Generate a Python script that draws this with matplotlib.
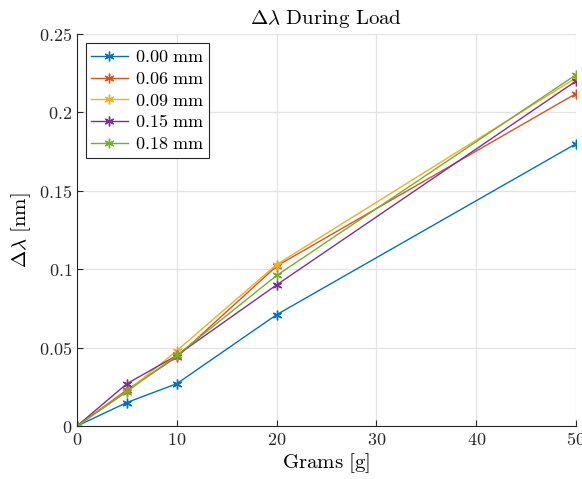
import matplotlib
matplotlib.use("Agg")
import matplotlib.pyplot as plt
from matplotlib.ticker import FuncFormatter

plt.rcParams["mathtext.fontset"] = "cm"
plt.rcParams["font.family"] = "serif"
plt.rcParams["font.serif"] = ["DejaVu Serif"]

# ---- data ----
grams = [0, 5, 10, 20, 50]
labels = ["0.00 mm", "0.06 mm", "0.09 mm", "0.15 mm", "0.18 mm"]
d000 = [0.0, 0.015, 0.027, 0.071, 0.180]
d006 = [0.0, 0.023, 0.044, 0.102, 0.212]
d009 = [0.0, 0.022, 0.048, 0.103, 0.222]
d015 = [0.0, 0.027, 0.045, 0.090, 0.220]
d018 = [0.0, 0.022, 0.045, 0.096, 0.224]
series = [d000, d006, d009, d015, d018]
colors = ["#0072BD", "#D95319", "#EDB120", "#7E2F8E", "#77AC30"]

fig = plt.figure(figsize=(5.82, 4.79), dpi=100)
ax = fig.add_axes([0.1323, 0.1106, 0.8574, 0.8184])

# MATLAB-style asterisk marker
ASTERISK = (6, 2, 0)
for ys, lab, c in zip(series, labels, colors):
    ax.plot(grams, ys, color=c, lw=1.0, marker=ASTERISK, ms=7, mew=1.0,
            label=r"$\mathrm{%s}$" % lab.replace(" ", r"\ "))

ax.set_xlim(0, 50)
ax.set_ylim(0, 0.25)
ax.set_xticks([0, 10, 20, 30, 40, 50])
ax.set_yticks([0, 0.05, 0.1, 0.15, 0.2, 0.25])
fmt = FuncFormatter(lambda v, pos: r"$%g$" % round(v, 3))
ax.xaxis.set_major_formatter(fmt)
ax.yaxis.set_major_formatter(fmt)
ax.tick_params(direction="in", length=4, width=0.8, labelsize=13, colors="#262626")
ax.grid(True, color="#e3e3e3", lw=0.9)
ax.set_axisbelow(True)
for s in ["top", "right"]:
    ax.spines[s].set_visible(False)
for s in ["left", "bottom"]:
    ax.spines[s].set_color("#262626")
    ax.spines[s].set_linewidth(0.8)

ax.set_xlabel(r"$\mathrm{Grams\ [g]}$", fontsize=15, labelpad=2)
ax.set_ylabel(r"$\Delta\lambda\ \mathrm{[nm]}$", fontsize=15, labelpad=4)
ax.set_title(r"$\Delta\lambda\ \mathrm{During\ Load}$", fontsize=15, pad=7)

leg = ax.legend(loc="upper left", fontsize=13, fancybox=False, framealpha=1,
                edgecolor="#262626", borderaxespad=0.5, handlelength=2.0,
                handletextpad=0.4, labelspacing=0.2, borderpad=0.3)
leg.get_frame().set_linewidth(0.8)

fig.savefig("out.png", dpi=100)
